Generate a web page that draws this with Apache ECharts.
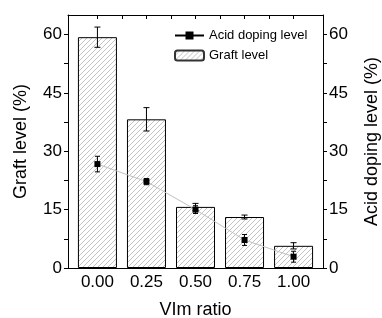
<!DOCTYPE html>
<html>
<head>
<meta charset="utf-8">
<script src="https://cdn.jsdelivr.net/npm/echarts@6/dist/echarts.min.js"></script>
<style>
  html, body { margin: 0; padding: 0; background: #fff; }
  #chart { width: 382px; height: 318px; }
</style>
</head>
<body>
<div id="chart"></div>
<script>
// data
const ratios = [0.00, 0.25, 0.50, 0.75, 1.00];
const graftLevel = [59.3, 38.2, 15.7, 13.1, 5.7];
const graftErr = [2.6, 3.0, 0.9, 0.5, 0.8];
const acidLevel = [26.7, 22.2, 15.0, 7.2, 2.9];
const acidErr = [2.0, 0.8, 1.0, 1.4, 1.4];
const yTicks = [0, 15, 30, 45, 60];
const yMinorTicks = [0, 7.5, 15, 22.5, 30, 37.5, 45, 52.5, 60];
const topTicks = [0, 0.125, 0.25, 0.375, 0.5, 0.625, 0.75, 0.875, 1];

const FONT = 'Liberation Sans, Arial, sans-serif';

/**
 * hatch pattern for the bars
 */
function makeHatch(color) {
    const size = 5;
    const c = document.createElement('canvas');
    c.width = size;
    c.height = size;
    const ctx = c.getContext('2d');
    ctx.fillStyle = '#fff';
    ctx.fillRect(0, 0, size, size);
    ctx.strokeStyle = color;
    ctx.lineWidth = 0.8;
    ctx.beginPath();
    ctx.moveTo(-1, size + 1);
    ctx.lineTo(size + 1, -1);
    ctx.stroke();
    return { image: c, repeat: 'repeat' };
}

function errorData(xs, ys, es) {
    return xs.map((x, i) => [x, ys[i] - es[i], ys[i] + es[i]]);
}

function errorBarRender(capHalf) {
    return function (params, api) {
        const lo = api.coord([api.value(0), api.value(1)]);
        const hi = api.coord([api.value(0), api.value(2)]);
        const style = { stroke: '#000', lineWidth: 1 };
        return {
            type: 'group',
            children: [
                { type: 'line', shape: { x1: lo[0], y1: lo[1], x2: hi[0], y2: hi[1] }, style: style },
                { type: 'line', shape: { x1: hi[0] - capHalf, y1: hi[1], x2: hi[0] + capHalf, y2: hi[1] }, style: style },
                { type: 'line', shape: { x1: lo[0] - capHalf, y1: lo[1], x2: lo[0] + capHalf, y2: lo[1] }, style: style }
            ]
        };
    };
}

const chart = echarts.init(document.getElementById('chart'));
const hatch = makeHatch('#b4b4b4');

chart.setOption({
    animation: false,
    textStyle: { fontFamily: FONT },
    grid: { left: 68, right: 59, top: 15, bottom: 50, outerBoundsMode: 'none' },
    legend: {
        left: 169,
        top: 24,
        orient: 'vertical',
        itemWidth: 29,
        itemHeight: 10,
        itemGap: 7,
        textStyle: { fontSize: 13, color: '#000', fontFamily: FONT },
        data: [
            { name: 'Acid doping level', lineStyle: { color: '#000' } },
            { name: 'Graft level', itemStyle: { borderColor: '#333' } }
        ]
    },
    xAxis: [
        {
            type: 'value', min: -0.15, max: 1.15, position: 'bottom',
            name: 'VIm ratio', nameLocation: 'middle', nameGap: 33,
            nameTextStyle: { fontSize: 18, color: '#000', fontFamily: FONT },
            axisLine: { onZero: false, lineStyle: { color: '#000', width: 1 } },
            axisTick: { inside: true, length: 4, customValues: ratios, lineStyle: { color: '#000' } },
            axisLabel: { customValues: ratios, fontSize: 17, color: '#000', margin: 6, formatter: v => v.toFixed(2) },
            splitLine: { show: false }
        },
        {
            type: 'value', min: -0.15, max: 1.15, position: 'top',
            axisLine: { onZero: false, lineStyle: { color: '#000', width: 1 } },
            axisTick: { inside: true, length: 4, customValues: topTicks, lineStyle: { color: '#000' } },
            axisLabel: { show: false },
            splitLine: { show: false }
        }
    ],
    yAxis: [
        {
            type: 'value', min: 0, max: 65, position: 'left',
            name: 'Graft level (%)', nameLocation: 'middle', nameGap: 38,
            nameTextStyle: { fontSize: 18, color: '#000', fontFamily: FONT },
            axisLine: { show: true, onZero: false, lineStyle: { color: '#000', width: 1 } },
            axisTick: { show: true, length: 4, customValues: yMinorTicks, lineStyle: { color: '#000' } },
            axisLabel: { customValues: yTicks, fontSize: 17, color: '#000', margin: 6 },
            splitLine: { show: false }
        },
        {
            type: 'value', min: 0, max: 65, position: 'right',
            name: 'Acid doping level (%)', nameLocation: 'middle', nameGap: 40,
            nameTextStyle: { fontSize: 18, color: '#000', fontFamily: FONT },
            axisLine: { show: true, onZero: false, lineStyle: { color: '#000', width: 1 } },
            axisTick: { show: true, length: 4, customValues: yMinorTicks, lineStyle: { color: '#000' } },
            axisLabel: { customValues: yTicks, fontSize: 17, color: '#000', margin: 6 },
            splitLine: { show: false }
        }
    ],
    series: [
        {
            name: 'Graft level',
            type: 'bar',
            xAxisIndex: 0,
            yAxisIndex: 0,
            barWidth: 39,
            itemStyle: { color: hatch, borderColor: '#000', borderWidth: 1 },
            data: ratios.map((x, i) => [x, graftLevel[i]]),
            z: 1
        },
        {
            name: 'graftErr',
            type: 'custom',
            xAxisIndex: 0,
            yAxisIndex: 0,
            renderItem: errorBarRender(3),
            data: errorData(ratios, graftLevel, graftErr),
            z: 3
        },
        {
            name: 'Acid doping level',
            type: 'line',
            xAxisIndex: 0,
            yAxisIndex: 1,
            symbol: 'rect',
            symbolSize: 6,
            lineStyle: { color: '#c0c0c0', width: 1 },
            itemStyle: { color: '#000' },
            data: ratios.map((x, i) => [x, acidLevel[i]]),
            z: 4
        },
        {
            name: 'acidErr',
            type: 'custom',
            xAxisIndex: 0,
            yAxisIndex: 1,
            renderItem: errorBarRender(2.5),
            data: errorData(ratios, acidLevel, acidErr),
            z: 4
        }
    ]
});
</script>
</body>
</html>
